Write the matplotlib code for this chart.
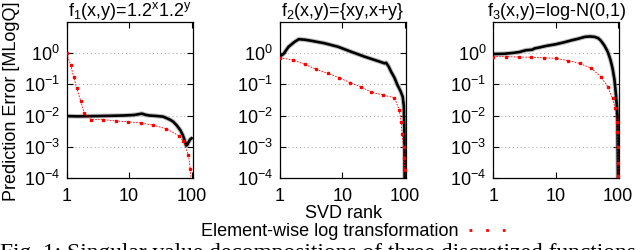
import matplotlib
matplotlib.use("Agg")
import matplotlib.pyplot as plt
from matplotlib.lines import Line2D

plt.rcParams['font.family'] = ['Liberation Sans', 'DejaVu Sans']
plt.rcParams['mathtext.fontset'] = 'custom'
plt.rcParams['mathtext.rm'] = 'Liberation Sans'
plt.rcParams['mathtext.it'] = 'Liberation Sans'
plt.rcParams['mathtext.bf'] = 'Liberation Sans:bold'

# ---------------- data ----------------
titles = [r"f$_1$(x,y)=1.2$^{\mathrm{x}}$1.2$^{\mathrm{y}}$",
          r"f$_2$(x,y)={xy,x+y}",
          r"f$_3$(x,y)=log-N(0,1)"]

xtick_vals = [1, 10, 100]
xtick_labels = ["1", "10", "100"]
ytick_vals = [1e-4, 1e-3, 1e-2, 1e-1, 1e0]
ytick_labels = [r"$10^{-4}$", r"$10^{-3}$", r"$10^{-2}$", r"$10^{-1}$", r"$10^{0}$"]

# panel 1 : original (black)
p1_black_x = [1, 1.5, 2, 3, 5, 8, 12, 16, 18, 21, 25, 30, 35, 40, 46, 51, 58, 66, 72, 76, 82, 86, 89, 94, 100]
p1_black_y = [0.0096, 0.0094, 0.0095, 0.0096, 0.0098, 0.0100, 0.0104, 0.0115, 0.0106, 0.0100, 0.0098, 0.0095, 0.0092, 0.0082, 0.0072,
              0.0063, 0.0048, 0.0034, 0.0024, 0.0018, 0.0011, 0.0012, 0.0014, 0.0017, 0.0019]
# panel 1 : element-wise log transformation (red)
p1_red_x = [1, 1.16, 1.29, 1.45, 1.68, 1.9, 2.45, 3.87, 6.2, 9.7, 15.5, 24.5, 39, 62, 74, 89, 95, 98]
p1_red_y = [0.95, 0.4, 0.17, 0.073, 0.029, 0.012, 0.0074, 0.0074, 0.0067, 0.0063, 0.0058, 0.0049, 0.0038,
            0.0023, 0.0015, 5.4e-4, 2e-4, 9e-5]

# panel 2
p2_black_x = [1, 1.13, 1.37, 1.7, 2.0, 2.5, 3.2, 5.2, 8.5, 13.9, 22.6, 32.6, 42, 47, 50, 55, 60, 68, 76, 85, 92, 96, 98, 99, 100]
p2_black_y = [0.78, 0.9, 1.55, 2.2, 2.7, 2.6, 2.4, 2.0, 1.55, 1.07, 0.75, 0.59, 0.5, 0.46, 0.48, 0.36, 0.25, 0.16, 0.093,
              0.06, 0.04, 0.02, 0.003, 1e-4, 1e-5]
p2_red_x = [1, 1.59, 2.47, 3.77, 5.8, 8.9, 13.4, 19.6, 29, 44, 68, 81, 87, 90, 95, 98, 99]
p2_red_y = [0.69, 0.59, 0.43, 0.3, 0.22, 0.16, 0.11, 0.082, 0.056, 0.045, 0.037, 0.015, 0.0063, 0.0026, 0.001,
            4.4e-4, 1.8e-4]

# panel 3
p3_black_x = [1, 1.5, 2, 2.6, 3.3, 4.2, 4.6, 5.3, 7, 9.8, 13, 18, 23, 29, 35, 42, 48, 53, 60, 68, 75, 81, 87, 92, 95, 97, 99, 100]
p3_black_y = [0.91, 0.93, 0.98, 1.05, 1.2, 1.25, 1.38, 1.45, 1.65, 1.85, 2.1, 2.5, 2.8, 3.2, 3.3, 3.2, 2.9, 2.4, 1.7, 1.07,
              0.6, 0.32, 0.14, 0.045, 0.02, 0.01, 1e-4, 1e-5]
p3_red_x = [1, 1.62, 2.57, 4.07, 6.4, 10, 15.8, 24, 37, 53, 68, 81, 89, 94, 97, 98, 99, 99.5]
p3_red_y = [0.75, 0.75, 0.73, 0.72, 0.69, 0.66, 0.56, 0.46, 0.32, 0.17, 0.082, 0.035, 0.017, 0.0063, 0.003,
            1e-3, 3e-4, 1.2e-4]

black_x = [p1_black_x, p2_black_x, p3_black_x]
black_y = [p1_black_y, p2_black_y, p3_black_y]
red_x = [p1_red_x, p2_red_x, p3_red_x]
red_y = [p1_red_y, p2_red_y, p3_red_y]

legend_label = "Element-wise log transformation"
xlabel = "SVD rank"
ylabel = "Prediction Error [MLogQ]"
caption = "Fig. 1: Singular value decompositions of three discretized functions"

# ---------------- figure ----------------
W, H = 640, 250
fig = plt.figure(figsize=(6.4, 2.5), dpi=100)

lefts = [66.7, 280.0, 493.3]
aw, top_px, bot_px = 126.0, 22.3, 178.3
FS = 13

axes = []
for i in range(3):
    ax = fig.add_axes([lefts[i] / W, (H - bot_px) / H, aw / W, (bot_px - top_px) / H])
    axes.append(ax)
    ax.set_xscale('log')
    ax.set_yscale('log')
    ax.set_xlim(1, 104)
    ax.set_ylim(1e-4, 10 ** 0.97)
    for yv in ytick_vals[1:]:
        ax.axhline(yv, color='#b0b0b0', lw=0.8, ls=(0, (1, 2.5)), zorder=0)
    ax.plot(black_x[i], black_y[i], color='#9a9a9a', lw=3.4, alpha=0.6, zorder=2, solid_capstyle='butt')
    ax.plot(black_x[i], black_y[i], color='black', lw=1.9, zorder=3)
    ax.plot(red_x[i], red_y[i], color='red', lw=0.6, ls=(0, (2, 1.5)), marker='s', ms=1.8,
            mec='red', mfc='red', zorder=4)
    ax.set_xticks(xtick_vals)
    ax.set_xticklabels(xtick_labels)
    ax.set_yticks(ytick_vals)
    ax.set_yticklabels(ytick_labels)
    ax.minorticks_off()
    ax.tick_params(which='both', direction='in', length=4, width=0.8, top=True, right=True,
                   labelsize=FS, pad=5)
    ax.tick_params(axis='x', pad=7)
    for s in ax.spines.values():
        s.set_linewidth(0.9)
    ax.set_title(titles[i], fontsize=FS, pad=3)

axes[0].set_ylabel(ylabel, fontsize=FS)
axes[0].yaxis.set_label_coords((20 - lefts[0]) / aw, 0.495)

fig.text(344 / W, 1 - 213 / H, xlabel, ha='center', va='center', fontsize=FS)

handle = Line2D([], [], color='red', lw=2.0, ls=(0, (1, 5)))
fig.legend([handle], [legend_label], loc='center', bbox_to_anchor=(356 / W, 1 - 232 / H),
           frameon=False, markerfirst=False, handlelength=2.3, handletextpad=0.6,
           fontsize=FS, borderpad=0)

fig.text(0.0, 1 - 258.5 / H, caption, ha='left', va='baseline', fontsize=16.9,
         family=['Liberation Serif', 'DejaVu Serif'])

fig.savefig('out.png', dpi=100)
